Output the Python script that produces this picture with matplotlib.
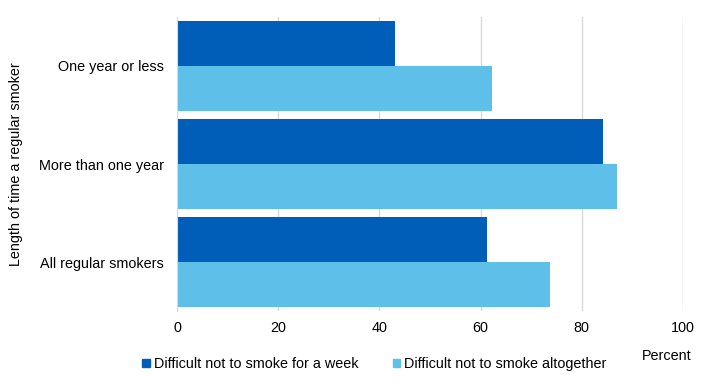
import matplotlib
matplotlib.use('Agg')
import numpy as np
import matplotlib.pyplot as plt
from matplotlib.patches import Patch

categories = ['One year or less', 'More than one year', 'All regular smokers']
week = [43.1, 84.1, 61.3]
altogether = [62.3, 86.9, 73.8]
series_names = ['Difficult not to smoke for a week', 'Difficult not to smoke altogether']
xticks = [0, 20, 40, 60, 80, 100]

dark, light = '#005EB8', '#5EC0E8'
fs = 10.4
plt.rcParams['font.family'] = ['Liberation Sans', 'DejaVu Sans']

fig = plt.figure(figsize=(7.08, 3.84), dpi=100)
ax = fig.add_axes([0.25, 0.189, 0.7147, 0.767])

y = np.arange(len(categories))
h = 0.46
ax.barh(y - h / 2, week, height=h, color=dark, zorder=3)
ax.barh(y + h / 2, altogether, height=h, color=light, zorder=3)

ax.set_ylim(2.5, -0.5)
ax.set_xlim(0, 100)
ax.set_xticks(xticks)
ax.set_yticks(y)
ax.set_yticklabels(categories)
ax.tick_params(axis='both', length=0, labelsize=fs, colors='#000000')
ax.tick_params(axis='y', pad=9.5)
ax.tick_params(axis='x', pad=7)
ax.grid(axis='x', color='#D9D9D9', linewidth=1, zorder=0)
for s in ['top', 'right', 'bottom']:
    ax.spines[s].set_visible(False)
ax.spines['left'].set_color('#D9D9D9')
ax.spines['left'].set_zorder(4)

fig.text(0.023, 0.572, 'Length of time a regular smoker', rotation=90,
         ha='center', va='center', fontsize=fs)
fig.text(0.977, 0.073, 'Percent', ha='right', va='center', fontsize=fs)

handles = [Patch(color=dark), Patch(color=light)]
fig.legend(handles, series_names, loc='center', bbox_to_anchor=(0.529, 0.052),
           ncol=2, frameon=False, fontsize=fs, handlelength=0.5, handleheight=0.5,
           handletextpad=0.28, columnspacing=2.4, borderpad=0)

fig.savefig('out.png', dpi=100)
